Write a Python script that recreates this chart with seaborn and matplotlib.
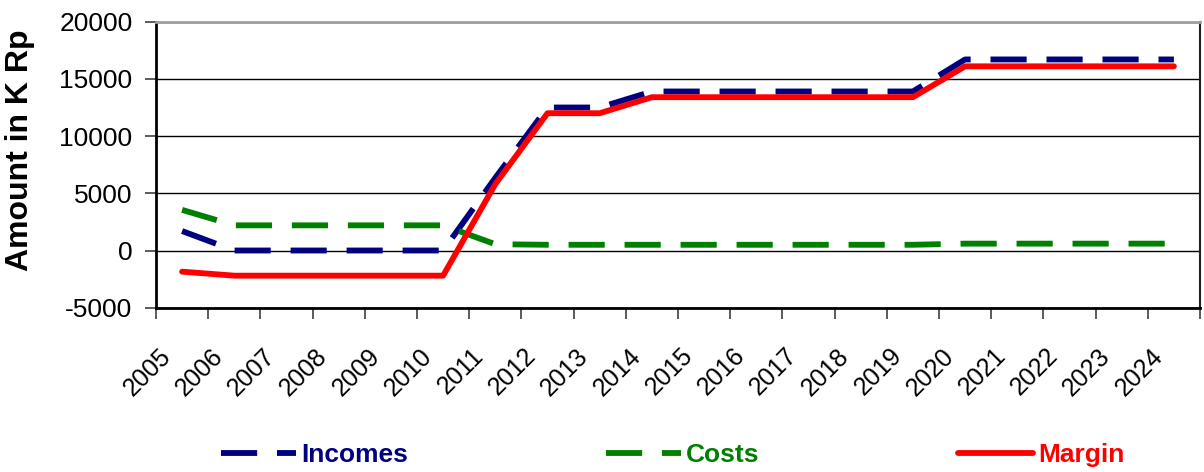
import matplotlib
matplotlib.use("Agg")
import matplotlib.pyplot as plt
import matplotlib.transforms as mtransforms
import numpy as np
import pandas as pd
import seaborn as sns

# Yearly figures, in thousands of rupiah
years = [str(y) for y in range(2005, 2025)]
incomes = [1700, 0, 0, 0, 0, 0, 6350, 12500, 12500,
           13900, 13900, 13900, 13900, 13900, 13900,
           16700, 16700, 16700, 16700, 16700]
costs = [3550, 2200, 2200, 2200, 2200, 2200, 550, 500, 500,
         500, 500, 500, 500, 500, 500,
         600, 600, 600, 600, 600]
margin = [-1850, -2200, -2200, -2200, -2200, -2200, 5800, 12000, 12000,
          13400, 13400, 13400, 13400, 13400, 13400,
          16100, 16100, 16100, 16100, 16100]

series_names = ["Incomes", "Costs", "Margin"]
series_colors = {"Incomes": "#000080", "Costs": "#008000", "Margin": "#FF0000"}

y_ticks = [-5000, 0, 5000, 10000, 15000, 20000]

sns.set_theme(style="white")
plt.rcParams["font.family"] = ["Liberation Sans", "DejaVu Sans"]

df = pd.DataFrame({
    "pos": np.tile(np.arange(len(years)), 3),
    "year": years * 3,
    "value": incomes + costs + margin,
    "series": np.repeat(series_names, len(years)),
})

fig = plt.figure(figsize=(12.04, 4.72), dpi=100)
W, H = 1204, 472
left, right, top, bottom = 156, 1200, 21.7, 307.7
ax = fig.add_axes([left / W, 1 - bottom / H, (right - left) / W, (bottom - top) / H])

lw = 4.2
dash = (6.2, 3.4)
for name in series_names:
    sub = df[df["series"] == name]
    kws = dict(color=series_colors[name], linewidth=lw, label=name, ax=ax)
    if name == "Margin":
        kws.update(solid_capstyle="round", solid_joinstyle="round")
        sns.lineplot(data=sub, x="pos", y="value", **kws)
    else:
        sns.lineplot(data=sub, x="pos", y="value", dashes=False,
                     linestyle=(0, dash), dash_capstyle="butt", **kws)

leg = ax.get_legend()
if leg is not None:
    leg.remove()

ax.set_xlim(-0.5, len(years) - 0.5)
ax.set_ylim(-5000, 20000)
ax.set_yticks(y_ticks)
ax.set_yticklabels([str(v) for v in y_ticks], fontsize=19)

# Category labels sit at the centres; tick marks sit on the boundaries
ax.set_xticks(np.arange(len(years)))
ax.set_xticklabels(years, fontsize=18, rotation=45, ha="right", va="center",
                   rotation_mode="anchor")
ax.set_xticks(np.arange(len(years) + 1) - 0.5, minor=True)
ax.tick_params(axis="x", which="major", length=0, pad=32)
ax.tick_params(axis="x", which="minor", length=8, width=1.2, color="#404040",
               direction="out", bottom=True)
ax.tick_params(axis="y", which="major", length=8, width=1.2, color="#404040",
               direction="out", left=True, pad=9, labelcolor="black")
ax.tick_params(axis="x", labelcolor="black")

shift = mtransforms.ScaledTranslation(-15 / 100, 0, fig.dpi_scale_trans)
for lab in ax.get_xticklabels():
    lab.set_transform(lab.get_transform() + shift)

ax.set_xlabel("")
ax.set_ylabel("Amount in K Rp", fontsize=23, fontweight="bold", color="black")
ax.yaxis.set_label_coords(-0.116, 0.551)

ax.grid(axis="y", color="black", linewidth=1.0)
ax.grid(axis="x", visible=False)
ax.set_axisbelow(True)

for side in ["left", "bottom"]:
    ax.spines[side].set_color("black")
    ax.spines[side].set_linewidth(2.0)
ax.spines["right"].set_color("#202020")
ax.spines["right"].set_linewidth(1.5)
ax.spines["top"].set_color("#A0A0A0")
ax.spines["top"].set_linewidth(2.0)
for s in ax.spines.values():
    s.set_visible(True)

handles = ax.get_lines()[:3]
legend = fig.legend(handles, series_names, loc="center", ncol=3,
                    bbox_to_anchor=(0.5586, 0.036), frameon=False,
                    handlelength=2.85, handletextpad=0.2, columnspacing=7.5,
                    prop={"size": 19, "weight": "bold"})
for text, name in zip(legend.get_texts(), series_names):
    text.set_color(series_colors[name])

fig.savefig("out.png", dpi=100)
